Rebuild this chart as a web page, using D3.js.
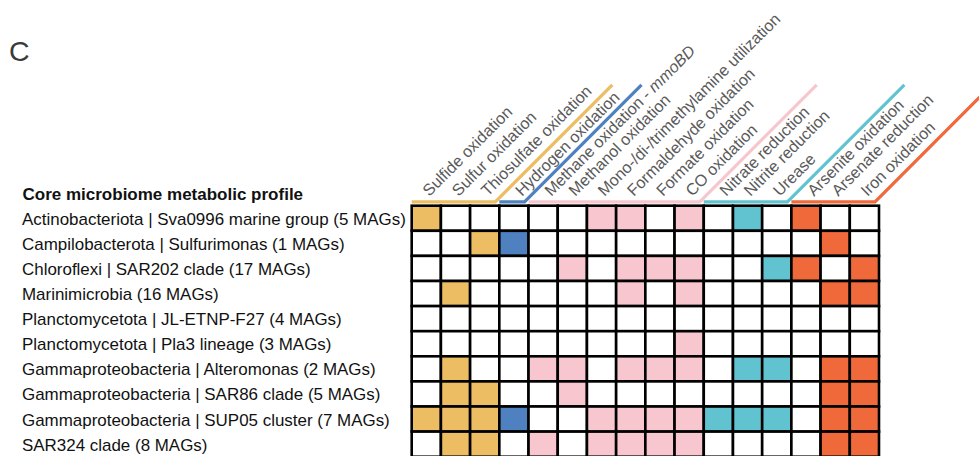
<!DOCTYPE html>
<html>
<head>
<meta charset="utf-8">
<script src="https://cdn.jsdelivr.net/npm/d3@7/dist/d3.min.js"></script>
<style>
  html, body { margin: 0; padding: 0; background: #fff; }
  svg { display: block; }
  text { font-family: "Liberation Sans", Arial, Helvetica, sans-serif; }
</style>
</head>
<body>
<svg id="chart" width="979" height="456"></svg>
<script>
// Metabolic functions (columns) and the pathway group each belongs to
const functions = [
  "Sulfide oxidation", "Sulfur oxidation", "Thiosulfate oxidation",
  "Hydrogen oxidation",
  "Methane oxidation - mmoBD", "Methanol oxidation",
  "Mono-/di-/trimethylamine utilization", "Formaldehyde oxidation",
  "Formate oxidation", "CO oxidation",
  "Nitrate reduction", "Nitrite reduction", "Urease",
  "Arsenite oxidation", "Arsenate reduction", "Iron oxidation"
];
const functionGroups = [
  "sulfur", "sulfur", "sulfur",
  "hydrogen",
  "carbon", "carbon", "carbon", "carbon", "carbon", "carbon",
  "nitrogen", "nitrogen", "nitrogen",
  "metal", "metal", "metal"
];
const groupNames = ["sulfur", "hydrogen", "carbon", "nitrogen", "metal"];
const groupColors = ["#ECBD62", "#4F81C1", "#F7C6CE", "#62C3D0", "#F0693B"];

// Core taxa (rows)
const taxa = [
  "Actinobacteriota | Sva0996 marine group (5 MAGs)",
  "Campilobacterota | Sulfurimonas (1 MAGs)",
  "Chloroflexi | SAR202 clade (17 MAGs)",
  "Marinimicrobia (16 MAGs)",
  "Planctomycetota | JL-ETNP-F27 (4 MAGs)",
  "Planctomycetota | Pla3 lineage (3 MAGs)",
  "Gammaproteobacteria | Alteromonas (2 MAGs)",
  "Gammaproteobacteria | SAR86 clade (5 MAGs)",
  "Gammaproteobacteria | SUP05 cluster (7 MAGs)",
  "SAR324 clade (8 MAGs)"
];

// Presence (1) / absence (0) of each function in each taxon
const presence = [
  [1,0,0,0, 0,0,1,1,0,1, 0,1,0, 1,0,0],
  [0,0,1,1, 0,0,0,0,0,0, 0,0,0, 0,1,0],
  [0,0,0,0, 0,1,0,1,1,1, 0,0,1, 1,0,1],
  [0,1,0,0, 0,0,0,1,0,1, 0,0,0, 0,1,1],
  [0,0,0,0, 0,0,0,0,0,0, 0,0,0, 0,0,0],
  [0,0,0,0, 0,0,0,0,0,1, 0,0,0, 0,0,0],
  [0,1,0,0, 1,1,0,1,1,1, 0,1,1, 0,1,1],
  [0,1,1,0, 0,1,0,0,0,0, 0,0,0, 0,1,1],
  [1,1,1,1, 0,0,1,1,1,1, 1,1,1, 0,1,1],
  [0,1,1,0, 1,0,1,1,1,1, 0,0,0, 0,1,1]
];

const svg = d3.select("#chart");

const x = d3.scaleBand().domain(functions).range([411.7, 879]).padding(0);
const y = d3.scaleBand().domain(taxa).range([205.7, 456.7]).padding(0);
const color = d3.scaleOrdinal().domain(groupNames).range(groupColors);

// Panel letter
svg.append("text")
  .attr("x", 9).attr("y", 61)
  .attr("font-size", 28.5)
  .attr("fill", "#3a3a3a")
  .text("C");

// Title over the row labels
svg.append("text")
  .attr("x", 22.5).attr("y", 199.5)
  .attr("font-size", 17)
  .attr("font-weight", "bold")
  .attr("fill", "#111")
  .text("Core microbiome metabolic profile");

// Row labels
svg.append("g").selectAll("text")
  .data(taxa)
  .join("text")
  .attr("x", 22)
  .attr("y", d => y(d) + y.bandwidth() / 2 + 6.5)
  .attr("font-size", 16.95)
  .attr("fill", "#111")
  .text(d => d);

// Cells
const cells = [];
presence.forEach((row, i) => row.forEach((v, j) => cells.push({ taxon: taxa[i], fn: functions[j], group: functionGroups[j], v })));

svg.append("g").selectAll("rect")
  .data(cells)
  .join("rect")
  .attr("x", d => x(d.fn))
  .attr("y", d => y(d.taxon))
  .attr("width", x.bandwidth())
  .attr("height", y.bandwidth())
  .attr("fill", d => d.v ? color(d.group) : "#fff")
  .attr("stroke", "#000")
  .attr("stroke-width", 2.6);

// Group brackets: a line along the top of each group rising at 45 degrees
const lineY = 201.8, rise = 117;
const groupSpans = groupNames.map(g => {
  const cols = functions.filter((f, i) => functionGroups[i] === g);
  return { g, x0: x(cols[0]), x1: x(cols[cols.length - 1]) + x.bandwidth() };
});
svg.append("g").selectAll("path")
  .data(groupSpans)
  .join("path")
  .attr("d", d => {
    const xe = d.x1 - 4;
    return `M${d.x0},${lineY}H${xe}L${xe + rise},${lineY - rise}`;
  })
  .attr("fill", "none")
  .attr("stroke", d => color(d.g))
  .attr("stroke-width", 3.2)
  .attr("stroke-linejoin", "miter");

// Column labels, rotated; the first label of a group sits clear of the bracket
svg.append("g").selectAll("text")
  .data(functions)
  .join("text")
  .attr("transform", (d, i) => {
    const first = i > 0 && functionGroups[i] !== functionGroups[i - 1];
    return `translate(${x(d) + x.bandwidth() / 2 + (first ? 8 : 3)},197) rotate(-45)`;
  })
  .attr("font-size", 16.2)
  .attr("fill", "#5a5a5a")
  .each(function (d) {
    const t = d3.select(this);
    if (d.endsWith("mmoBD")) {
      t.append("tspan").text("Methane oxidation - ");
      t.append("tspan").attr("font-style", "italic").text("mmoBD");
    } else {
      t.text(d);
    }
  });
</script>
</body>
</html>
